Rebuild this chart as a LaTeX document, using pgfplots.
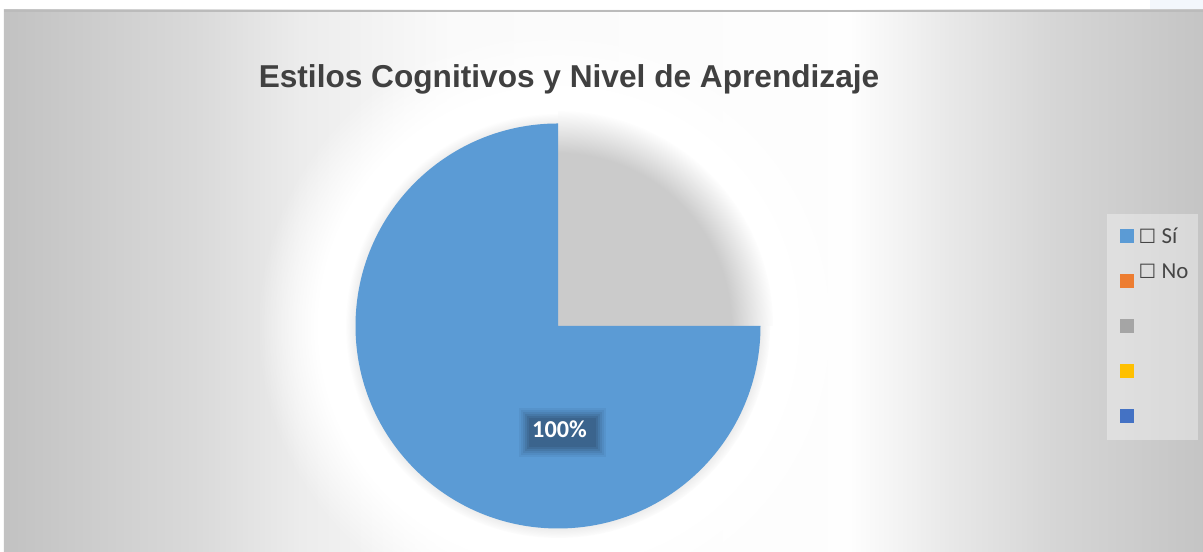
\documentclass[border=0pt]{standalone}
\usepackage{fontspec}
\setmainfont{Carlito}
\newfontfamily\titlefont{Liberation Sans}
\newfontfamily\symfont{DejaVu Sans}
\usepackage{pgfplots}
\pgfplotsset{compat=1.18}
\usetikzlibrary{fadings}

\definecolor{pieblue}{HTML}{5B9BD5}
\definecolor{pieorange}{HTML}{ED7D31}
\definecolor{piegray}{HTML}{A5A5A5}
\definecolor{pieyellow}{HTML}{FFC000}
\definecolor{piedblue}{HTML}{4472C4}
\definecolor{shadowgray}{HTML}{CBCBCB}
\definecolor{lblbox}{HTML}{3A6189}
\definecolor{titlegray}{HTML}{404040}
\definecolor{legtext}{HTML}{454545}
\definecolor{bgline}{HTML}{BBBBBB}
\definecolor{toptint}{HTML}{F3F7FC}

\begin{document}
\begin{tikzpicture}
\begin{axis}[
  hide axis, scale only axis,
  width=12.03cm, height=5.52cm,
  xmin=0, xmax=1203, ymin=0, ymax=552,
]
% page and chart area background
\fill[white] (axis cs:0,0) rectangle (axis cs:1203,552);
\fill[toptint] (axis cs:1150,542) rectangle (axis cs:1203,552);
\shade[left color=black!24, right color=black!14.5] (axis cs:4,0) rectangle (axis cs:201,542);
\shade[left color=black!14.5, right color=black!7.5] (axis cs:200,0) rectangle (axis cs:301,542);
\shade[left color=black!7.5, right color=black!2] (axis cs:300,0) rectangle (axis cs:451,542);
\shade[left color=black!2, right color=black!0.5] (axis cs:450,0) rectangle (axis cs:851,542);
\shade[left color=black!0.5, right color=black!9] (axis cs:850,0) rectangle (axis cs:951,542);
\shade[left color=black!9, right color=black!16] (axis cs:950,0) rectangle (axis cs:1051,542);
\shade[left color=black!16, right color=black!23] (axis cs:1050,0) rectangle (axis cs:1203,542);
\fill[bgline] (axis cs:4,540) rectangle (axis cs:1203,542);

% glow and shadow round the pie
\fill[white, path fading=circle with fuzzy edge 20 percent] (axis cs:558,226) circle[radius=300];
\fill[black!22, path fading=circle with fuzzy edge 15 percent] (axis cs:558,226) circle[radius=212];
\begin{scope}
  \clip (axis cs:558,226) rectangle (axis cs:820,480);
  \fill[white] (axis cs:558,226) circle[radius=240];
  \fill[shadowgray, path fading=circle with fuzzy edge 20 percent] (axis cs:558,226) circle[radius=215];
\end{scope}

% pie: Si = 100%
\begin{scope}
  \clip (axis cs:0,0) -- (axis cs:1203,0) -- (axis cs:1203,226) -- (axis cs:558,226)
        -- (axis cs:558,552) -- (axis cs:0,552) -- cycle;
  \fill[pieblue] (axis cs:558,226) circle[radius=202.5];
\end{scope}

% data label (soft edged box)
\fill[lblbox, opacity=0.12] (axis cs:519,95) rectangle (axis cs:606,144);
\fill[lblbox, opacity=0.15] (axis cs:521,97) rectangle (axis cs:604,142);
\fill[lblbox, opacity=0.2] (axis cs:523,99) rectangle (axis cs:602,140);
\fill[lblbox, opacity=0.3] (axis cs:525,101) rectangle (axis cs:600,138);
\fill[lblbox, opacity=0.45] (axis cs:527,103) rectangle (axis cs:598,136);
\fill[lblbox, opacity=0.7] (axis cs:529,105) rectangle (axis cs:596,134);
\node[inner sep=0, text=white, font=\fontsize{6.9}{8}\selectfont\bfseries]
  at (axis cs:559.5,122.5) {100\%};

% title
\node[anchor=base, inner sep=0, text=titlegray, font=\titlefont\bfseries\fontsize{9}{10}\selectfont]
  at (axis cs:569,464) {Estilos Cognitivos y Nivel de Aprendizaje};

% legend
\fill[white, fill opacity=0.35] (axis cs:1107,112) rectangle (axis cs:1198,338);
\fill[pieblue]   (axis cs:1120,308.5) rectangle (axis cs:1134,322.5);
\fill[pieorange] (axis cs:1120,264) rectangle (axis cs:1134,278);
\fill[piegray]   (axis cs:1120,219) rectangle (axis cs:1134,233);
\fill[pieyellow] (axis cs:1120,173.5) rectangle (axis cs:1134,187.5);
\fill[piedblue]  (axis cs:1120,129) rectangle (axis cs:1134,143);
\node[anchor=base west, inner sep=0, text=legtext, font=\fontsize{6.5}{8}\selectfont]
  at (axis cs:1138,308.8) {{\symfont\fontsize{5.6}{6}\selectfont ☐} Sí};
\node[anchor=base west, inner sep=0, text=legtext, font=\fontsize{6.5}{8}\selectfont]
  at (axis cs:1138,273.5) {{\symfont\fontsize{5.6}{6}\selectfont ☐} No};
\end{axis}
\end{tikzpicture}
\end{document}
